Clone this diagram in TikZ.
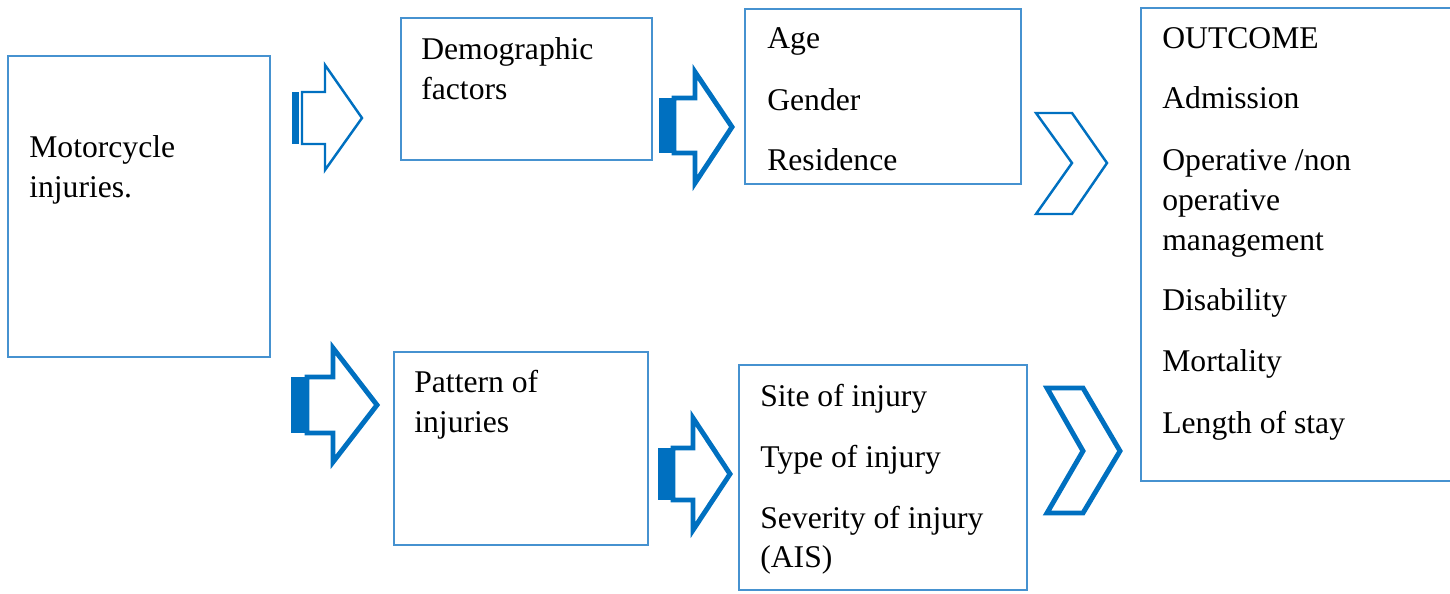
\documentclass[tikz,border=0pt]{standalone}
\usepackage{fontspec}
\setmainfont{Liberation Serif}
\usetikzlibrary{fit}
\definecolor{arrowblue}{RGB}{0,112,192}
\definecolor{boxblue}{RGB}{70,146,208}

\begin{document}
\begin{tikzpicture}[x=0.02cm,y=-0.02cm,
        box/.style={draw=boxblue,line width=0.9pt,inner sep=0pt},
        txt/.style={anchor=base west,inner sep=0pt,font=\fontsize{18}{21}\selectfont},
        thinarrow/.style={draw=arrowblue,line width=1.4pt,line join=miter},
        thickarrow/.style={draw=arrowblue,line width=2.8pt,line join=miter},
        bar/.style={fill=arrowblue}]
                \useasboundingbox (0,0) rectangle (1450,593);

                % boxes
                \node[box,fit={(8,56) (270,357)}] (mc) {};
                \node[box,fit={(401,18) (652,160)}] (demo) {};
                \node[box,fit={(745,9) (1021,184)}] (dvar) {};
                \node[box,fit={(1141,8) (1470,481)}] (outcome) {};
                \node[box,fit={(394,352) (648,545)}] (pattern) {};
                \node[box,fit={(739,365) (1027,590)}] (pvar) {};

                % texts
                \node[txt] (mc1) at (29,157) {Motorcycle};
                \node[txt] (mc2) at (29,197) {injuries.};

                \node[txt] (demo1) at (421,59) {Demographic};
                \node[txt] (demo2) at (421,99) {factors};

                \node[txt] (age) at (767,48) {Age};
                \node[txt] (gender) at (767,110) {Gender};
                \node[txt] (res) at (767,170) {Residence};

                \node[txt] (out1) at (1162,48) {OUTCOME};
                \node[txt] (out2) at (1162,108) {Admission};
                \node[txt] (out3) at (1162,170) {Operative /non};
                \node[txt] (out4) at (1162,210) {operative};
                \node[txt] (out5) at (1162,250) {management};
                \node[txt] (out6) at (1162,310) {Disability};
                \node[txt] (out7) at (1162,371) {Mortality};
                \node[txt] (out8) at (1162,433) {Length of stay};

                \node[txt] (pat1) at (414,392) {Pattern of};
                \node[txt] (pat2) at (414,432) {injuries};

                \node[txt] (site) at (760,406) {Site of injury};
                \node[txt] (type) at (760,467) {Type of injury};
                \node[txt] (sev1) at (760,528) {Severity of injury};
                \node[txt] (sev2) at (760,567) {(AIS)};

                % block arrows
                \fill[bar] (292,92) rectangle (299,144);
                \draw[thinarrow] (302,92) -- (325,92) -- (325,65) -- (362,118) -- (325,170) -- (325,144) -- (302,144) -- cycle;

                \fill[bar] (659,98) rectangle (674,153);
                \draw[thickarrow] (674,98) -- (695,98) -- (695,72) -- (732,127) -- (695,183) -- (695,153) -- (674,153) -- cycle;

                \fill[bar] (291,377) rectangle (307,433);
                \draw[thickarrow] (307,377) -- (333,377) -- (333,348) -- (377,405) -- (333,462) -- (333,433) -- (307,433) -- cycle;

                \fill[bar] (658,448) rectangle (673,500);
                \draw[thickarrow] (673,448) -- (693,448) -- (693,418) -- (730,474) -- (693,530) -- (693,500) -- (673,500) -- cycle;

                % chevrons
                \draw[thinarrow] (1036,113) -- (1072,113) -- (1107,163) -- (1072,214) -- (1036,214) -- (1072,163) -- cycle;
                \draw[thickarrow] (1047,388) -- (1083,388) -- (1120,451) -- (1083,513) -- (1047,513) -- (1083,451) -- cycle;
            \end{tikzpicture}
\end{document}
